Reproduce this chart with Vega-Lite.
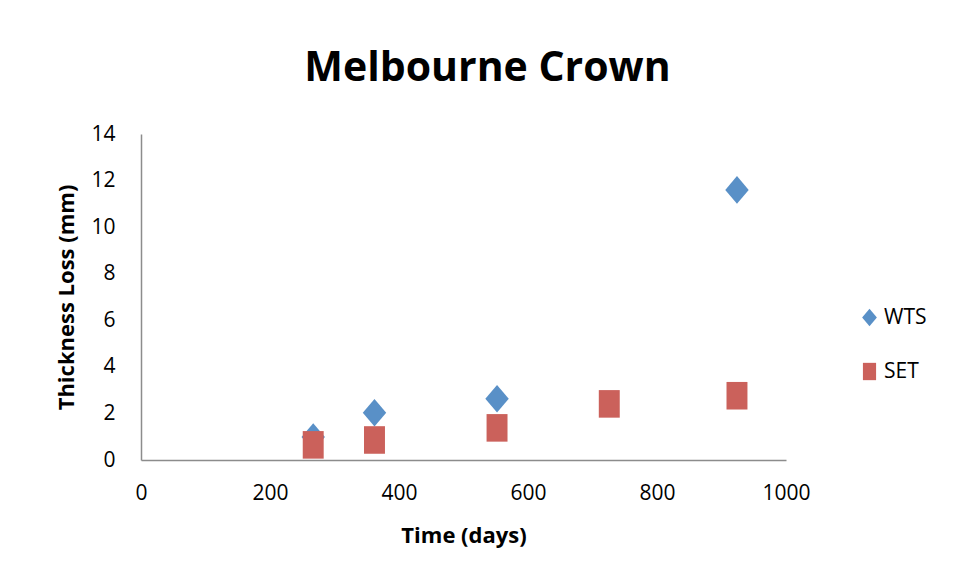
{
  "$schema": "https://vega.github.io/schema/vega-lite/v6.json",
  "width": 645,
  "height": 326,
  "autosize": "none",
  "padding": {"left": 141, "top": 134, "right": 170, "bottom": 119},
  "background": "white",
  "title": {
    "text": "Melbourne Crown",
    "font": "Open Sans",
    "fontSize": 41,
    "fontWeight": "bold",
    "color": "black",
    "anchor": "middle",
    "frame": "group",
    "dx": 24,
    "offset": 33
  },
  "config": {
    "view": {"stroke": null},
    "axis": {
      "domainColor": "#8c8c8c",
      "domainWidth": 1.5,
      "ticks": false,
      "grid": false,
      "labelFlush": false,
      "labelFont": "Open Sans",
      "labelFontSize": 21,
      "labelColor": "black",
      "titleFont": "Open Sans",
      "titleFontSize": 22,
      "titleFontWeight": "bold",
      "titleColor": "black"
    },
    "legend": {
      "labelFont": "Open Sans",
      "labelFontSize": 21,
      "labelColor": "black"
    }
  },
  "data": {
    "values": [
      {"Time": 267, "Loss": 0.99, "Series": "WTS"},
      {"Time": 362, "Loss": 2.03, "Series": "WTS"},
      {"Time": 552, "Loss": 2.63, "Series": "WTS"},
      {"Time": 924, "Loss": 11.6, "Series": "WTS"},
      {"Time": 267, "Loss": 0.65, "Series": "SET"},
      {"Time": 362, "Loss": 0.86, "Series": "SET"},
      {"Time": 552, "Loss": 1.38, "Series": "SET"},
      {"Time": 726, "Loss": 2.41, "Series": "SET"},
      {"Time": 924, "Loss": 2.76, "Series": "SET"}
    ]
  },
  "mark": {"type": "point", "filled": true, "opacity": 1, "size": 760},
  "encoding": {
    "x": {
      "field": "Time",
      "type": "quantitative",
      "title": "Time (days)",
      "scale": {"domain": [0, 1000], "nice": false},
      "axis": {"values": [0, 200, 400, 600, 800, 1000], "format": "d", "labelPadding": 22, "titlePadding": 22}
    },
    "y": {
      "field": "Loss",
      "type": "quantitative",
      "title": "Thickness Loss (mm)",
      "scale": {"domain": [0, 14], "nice": false},
      "axis": {"values": [0, 2, 4, 6, 8, 10, 12, 14], "labelPadding": 26, "titlePadding": 12}
    },
    "color": {
      "field": "Series",
      "type": "nominal",
      "scale": {"domain": ["WTS", "SET"], "range": ["#5990c7", "#cb615b"]},
      "legend": {
        "title": null,
        "orient": "none",
        "legendX": 718,
        "legendY": 173,
        "symbolSize": 300,
        "rowPadding": 32,
        "labelOffset": 4
      }
    },
    "shape": {
      "field": "Series",
      "type": "nominal",
      "scale": {
        "domain": ["WTS", "SET"],
        "range": ["M0,-1L0.85,0L0,1L-0.85,0Z", "M-0.76,-1L0.76,-1L0.76,1L-0.76,1Z"]
      },
      "legend": null
    }
  }
}
